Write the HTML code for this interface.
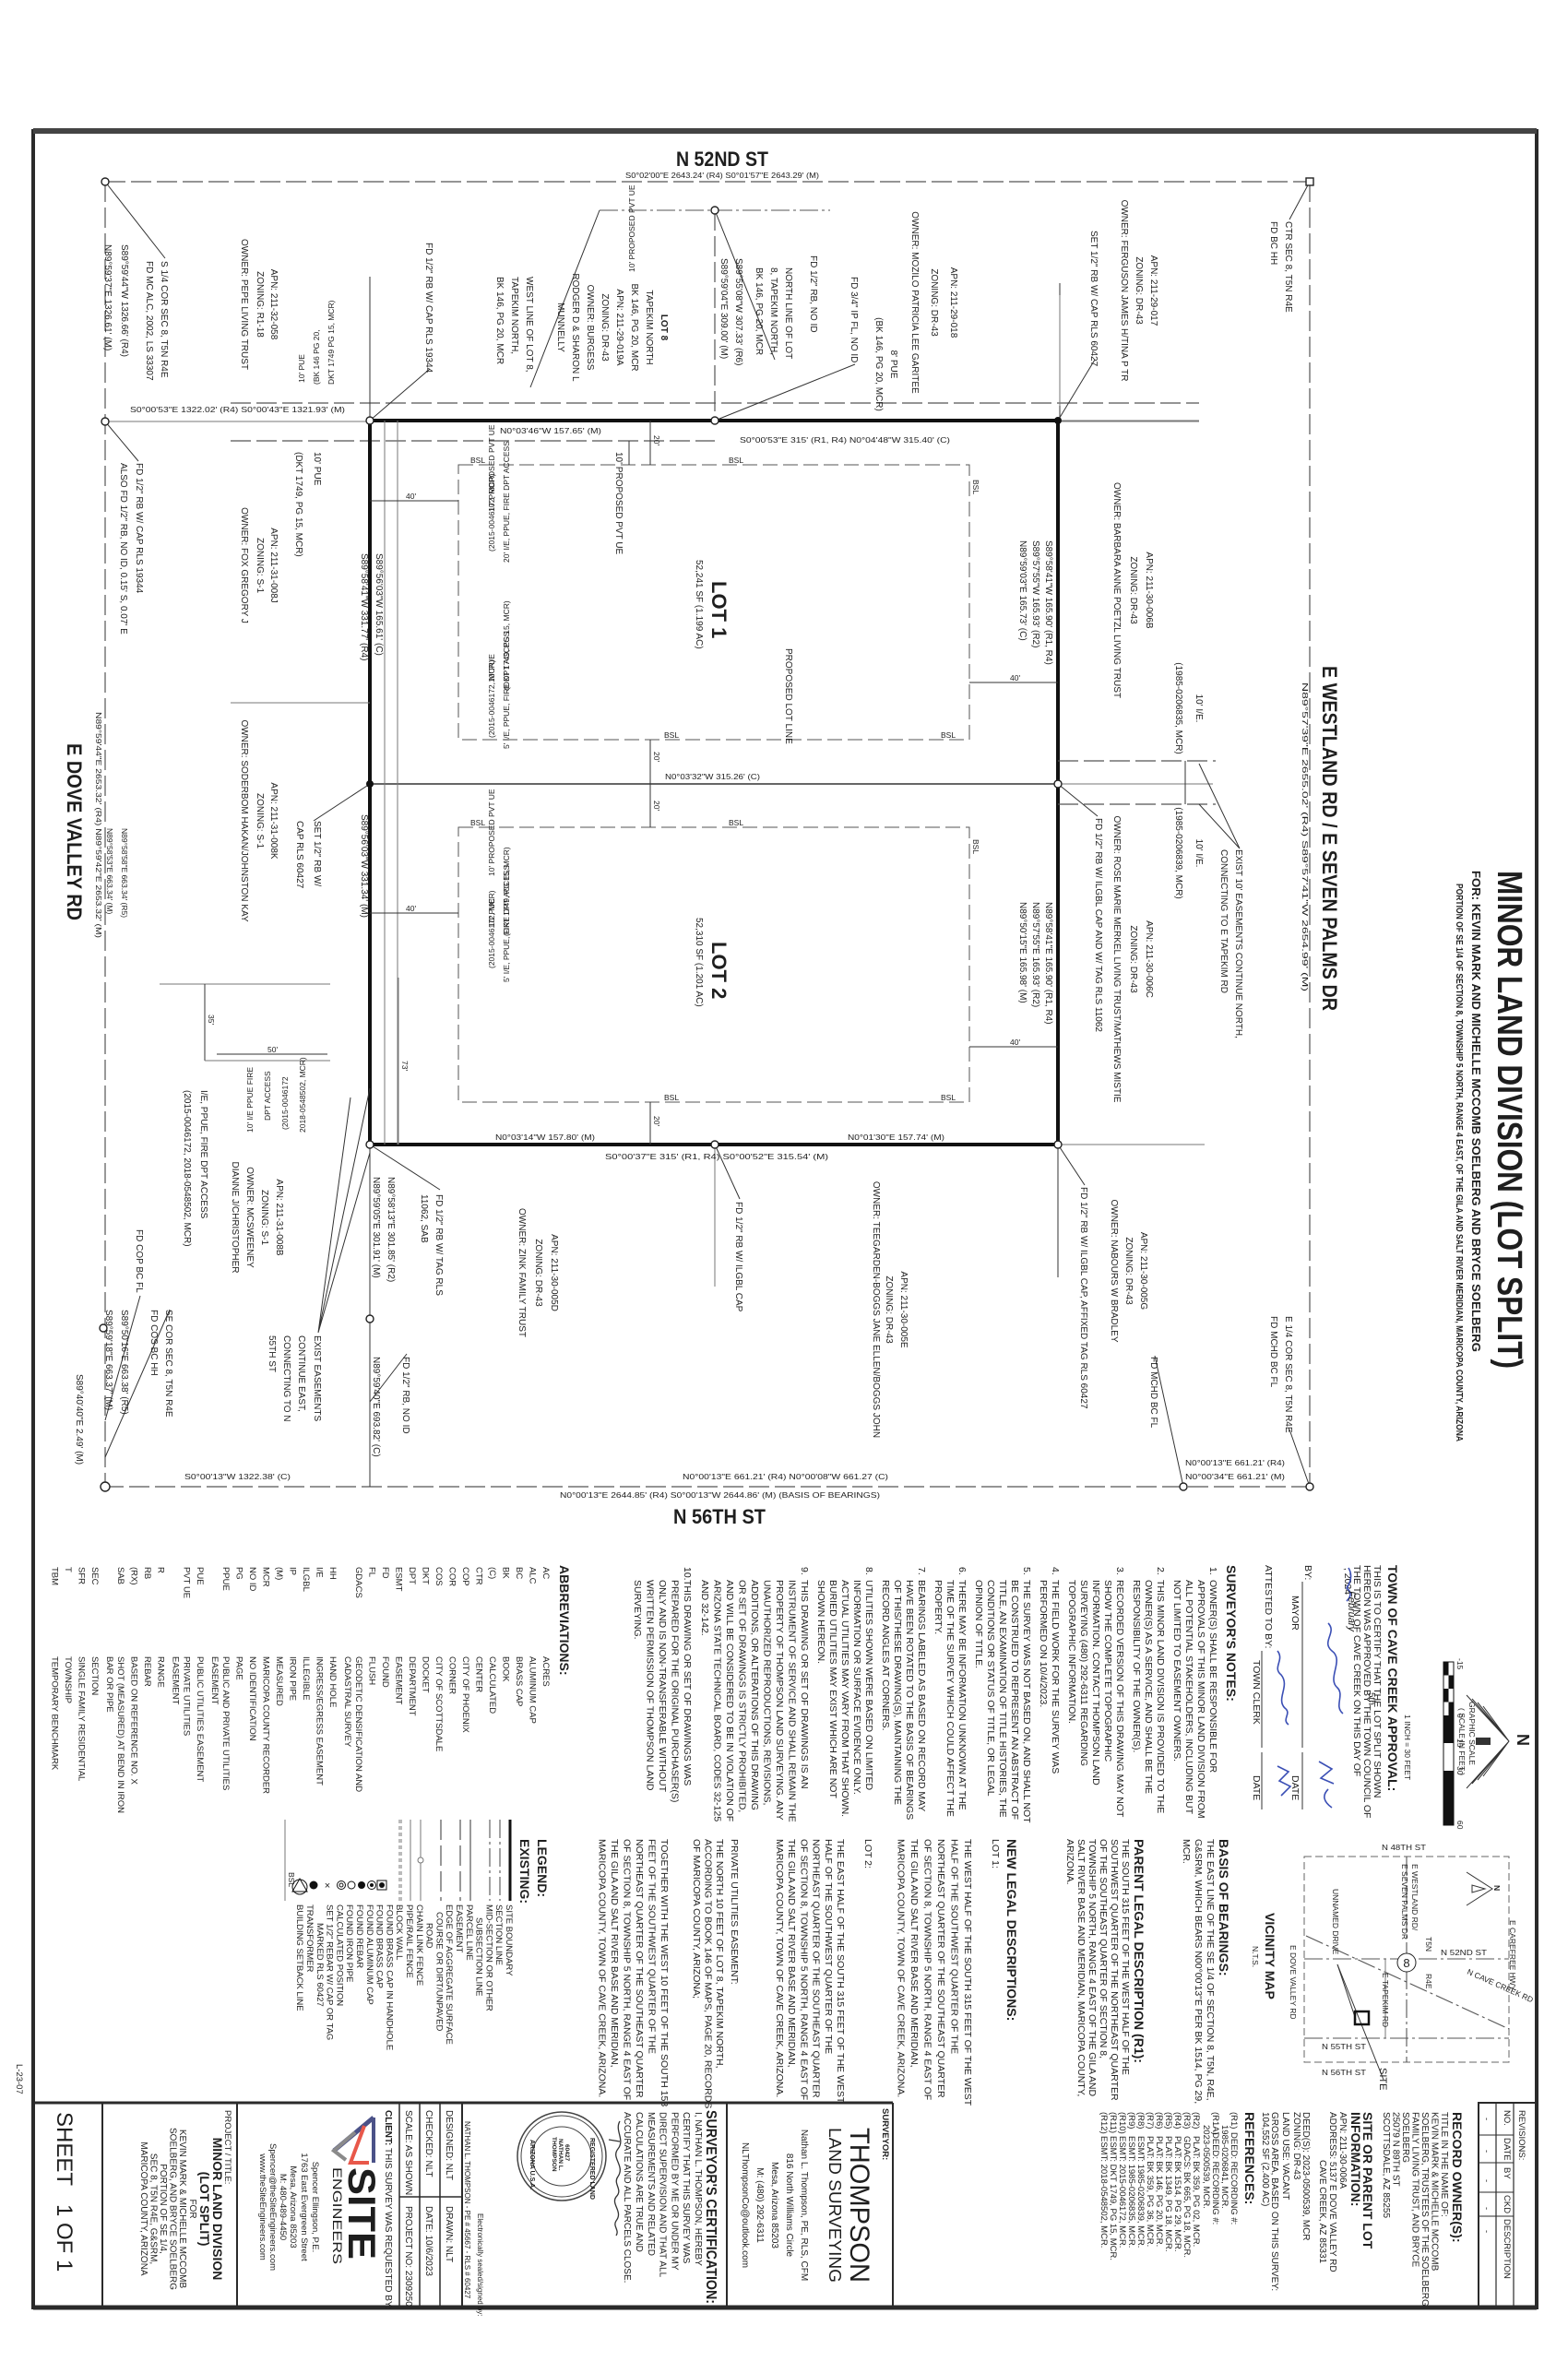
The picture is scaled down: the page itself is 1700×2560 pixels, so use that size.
<!DOCTYPE html>
<html><head><meta charset="utf-8">
<style>
html,body{margin:0;padding:0;background:#fff;}
svg{display:block}
text{font-family:"Liberation Sans",sans-serif;fill:#1e1e1e}
.s{font-size:10px}
.xs{font-size:8.5px}
.n{font-size:10.5px}
.h{font-size:14px;font-weight:bold}
.b{font-weight:bold}
.ln{stroke:#333;stroke-width:1;fill:none}
.lg{stroke:#777;stroke-width:1;fill:none}
.da{stroke:#555;stroke-width:1.2;stroke-dasharray:22 6;fill:none}
.dd{stroke:#555;stroke-width:1.1;stroke-dasharray:20 4 3 4;fill:none}
.bs{stroke:#555;stroke-width:1;stroke-dasharray:16 6;fill:none}
.mon{fill:#fff;stroke:#222;stroke-width:1.4}
</style></head>
<body>
<svg width="1700" height="2560" viewBox="0 0 1700 2560" xmlns="http://www.w3.org/2000/svg">
<rect width="1700" height="2560" fill="#fff"/>
<!-- frame -->
<rect x="36" y="142" width="1630" height="2360" fill="none" stroke="#2a2a2a" stroke-width="4"/>
<line x1="36" y1="142" x2="1666" y2="142" stroke="#444" stroke-width="6"/>

<!-- ===== DRAWING AREA ===== -->
<text x="783" y="180" class="b" font-size="22" text-anchor="middle" textLength="100" lengthAdjust="spacingAndGlyphs">N 52ND ST</text>
<text x="783" y="193" class="xs" text-anchor="middle" textLength="210" lengthAdjust="spacingAndGlyphs">S0°02'00"E 2643.24' (R4) S0°01'57"E 2643.29' (M)</text>
<line x1="114" y1="197" x2="1420" y2="197" class="da"/>
<line x1="114" y1="197" x2="114" y2="1612" class="da"/>
<line x1="1420" y1="197" x2="1420" y2="1612" class="da"/>
<line x1="112" y1="1612" x2="1420" y2="1612" class="da"/>
<line x1="114" y1="457" x2="1300" y2="457" class="lg"/>
<line x1="250" y1="437" x2="1300" y2="437" class="da" stroke="#888"/>
<line x1="250" y1="478" x2="775" y2="478" class="da" stroke="#888"/>
<line x1="401" y1="300" x2="401" y2="456" class="ln"/>
<line x1="1149" y1="307" x2="1149" y2="456" class="ln"/>
<line x1="775" y1="228" x2="775" y2="456" class="da" stroke="#888"/>
<line x1="650" y1="228" x2="900" y2="228" class="dd"/>
<line x1="1149" y1="320" x2="1149" y2="440" class="lg"/>

<!-- lots -->
<rect x="401" y="456" width="746" height="785" fill="none" stroke="#111" stroke-width="4"/>
<line x1="401" y1="850" x2="1147" y2="850" stroke="#333" stroke-width="1.4"/>
<line x1="1147" y1="850" x2="1315" y2="850" class="lg"/>
<line x1="1147" y1="1241" x2="1306" y2="1241" class="lg"/>
<line x1="1147" y1="456" x2="1300" y2="456" class="lg"/>
<line x1="1147" y1="1241" x2="1147" y2="1385" class="ln"/>
<line x1="401" y1="1241" x2="401" y2="1612" class="ln"/>
<line x1="775" y1="1241" x2="775" y2="1395" class="lg"/>
<line x1="431" y1="456" x2="431" y2="1241" class="lg"/>
<line x1="417" y1="456" x2="417" y2="1241" class="lg" stroke="#aaa"/>
<!-- BSL -->
<rect x="497" y="504" width="554" height="298" class="bs"/>
<rect x="497" y="897" width="554" height="298" class="bs"/>
<text transform="translate(1055,520) rotate(90)" class="xs">BSL</text>
<text transform="translate(1055,910) rotate(90)" class="xs">BSL</text>
<text x="510" y="502" class="xs">BSL</text><text x="790" y="502" class="xs">BSL</text>
<text x="720" y="800" class="xs">BSL</text><text x="1020" y="800" class="xs">BSL</text>
<text x="510" y="895" class="xs">BSL</text><text x="790" y="895" class="xs">BSL</text>
<text x="720" y="1193" class="xs">BSL</text><text x="1020" y="1193" class="xs">BSL</text>
<!-- easement lines -->
<line x1="250" y1="762" x2="401" y2="762" class="lg"/>
<line x1="1147" y1="825" x2="1318" y2="825" class="da" stroke="#999"/>
<line x1="1147" y1="872" x2="1318" y2="872" class="da" stroke="#999"/>
<line x1="1285" y1="825" x2="1285" y2="872" class="ln"/>
<line x1="173" y1="1067" x2="358" y2="1067" class="lg"/>
<line x1="222" y1="1067" x2="222" y2="1150" class="ln"/>
<line x1="235" y1="1143" x2="355" y2="1143" class="ln"/>
<line x1="222" y1="1150" x2="358" y2="1150" class="lg"/>
<text x="290" y="1141" class="xs">50'</text>
<text transform="translate(226,1100) rotate(90)" class="xs">35'</text>
<!-- dims -->
<line x1="705" y1="456" x2="705" y2="504" class="ln"/><text transform="translate(709,472) rotate(90)" class="xs">20'</text>
<line x1="705" y1="802" x2="705" y2="897" class="ln"/><text transform="translate(709,815) rotate(90)" class="xs">20'</text><text transform="translate(709,868) rotate(90)" class="xs">20'</text>
<line x1="705" y1="1195" x2="705" y2="1241" class="ln"/><text transform="translate(709,1210) rotate(90)" class="xs">20'</text>
<line x1="401" y1="543" x2="497" y2="543" class="ln"/><text x="440" y="541" class="xs">40'</text>
<line x1="401" y1="990" x2="497" y2="990" class="ln"/><text x="440" y="988" class="xs">40'</text>
<line x1="1051" y1="740" x2="1147" y2="740" class="ln"/><text x="1095" y="738" class="xs">40'</text>
<line x1="1051" y1="1135" x2="1147" y2="1135" class="ln"/><text x="1095" y="1133" class="xs">40'</text>
<line x1="432" y1="1060" x2="432" y2="1241" class="lg"/><text transform="translate(436,1150) rotate(90)" class="xs">73'</text>
<line x1="682" y1="478" x2="682" y2="504" class="ln"/>
<!-- leaders -->
<path class="ln" d="M114 197 L179 280 M1420 197 L1398 238 M401 456 L466 400 M775 228 L840 390 M650 228 L575 420 M775 456 L927 395 M1147 456 L1187 390 M114 457 L150 500 M401 850 L340 890 M1147 850 L1190 885 M1300 828 L1344 920 M1300 872 L1344 920 M401 1241 L477 1290 M775 1241 L802 1300 M1147 1241 L1176 1285 M114 1580 L184 1420 M114 1540 L152 1405 M1283 1612 L1252 1470 M1420 1612 L1398 1550 M401 1520 L441 1468 M401 1250 L345 1445 M401 1180 L345 1445 M380 1190 L345 1445"/>
<!-- monuments -->
<g>
<circle cx="114" cy="197" r="4" class="mon"/><rect x="1416" y="193" width="8" height="8" class="mon"/>
<circle cx="401" cy="456" r="4" class="mon"/><circle cx="775" cy="456" r="4" class="mon"/><circle cx="1147" cy="456" r="4" fill="#111"/>
<circle cx="114" cy="457" r="4" class="mon"/><circle cx="775" cy="228" r="4" class="mon"/>
<circle cx="401" cy="850" r="4" fill="#111"/><circle cx="1147" cy="850" r="4" class="mon"/>
<circle cx="401" cy="1241" r="4" class="mon"/><circle cx="775" cy="1241" r="4" class="mon"/><circle cx="1147" cy="1241" r="4" class="mon"/>
<circle cx="114" cy="1612" r="5" class="mon"/><circle cx="1283" cy="1612" r="4" class="mon"/><circle cx="1420" cy="1612" r="4" class="mon"/>
<circle cx="401" cy="1430" r="4" class="mon"/><circle cx="112" cy="1440" r="4" class="mon"/>
</g>

<!-- horizontal bearings -->
<text x="141" y="447" class="xs" textLength="233" lengthAdjust="spacingAndGlyphs">S0°00'53"E 1322.02' (R4) S0°00'43"E 1321.93' (M)</text>
<text x="542" y="470" class="xs" textLength="110" lengthAdjust="spacingAndGlyphs">N0°03'46"W 157.65' (M)</text>
<text x="802" y="480" class="xs" textLength="228" lengthAdjust="spacingAndGlyphs">S0°00'53"E 315' (R1, R4) N0°04'48"W 315.40' (C)</text>
<text x="721" y="845" class="xs" textLength="103" lengthAdjust="spacingAndGlyphs">N0°03'32"W 315.26' (C)</text>
<text x="537" y="1236" class="xs" textLength="108" lengthAdjust="spacingAndGlyphs">N0°03'14"W 157.80' (M)</text>
<text x="919" y="1236" class="xs" textLength="105" lengthAdjust="spacingAndGlyphs">N0°01'30"E 157.74' (M)</text>
<text x="656" y="1257" class="xs" textLength="242" lengthAdjust="spacingAndGlyphs">S0°00'37"E 315' (R1, R4) S0°00'52"E 315.54' (M)</text>
<text x="200" y="1604" class="xs" textLength="115" lengthAdjust="spacingAndGlyphs">S0°00'13"W 1322.38' (C)</text>
<text x="740" y="1604" class="xs" textLength="223" lengthAdjust="spacingAndGlyphs">N0°00'13"E 661.21' (R4) N0°00'08"W 661.27 (C)</text>
<text x="1285" y="1589" class="xs" textLength="108" lengthAdjust="spacingAndGlyphs">N0°00'13"E 661.21' (R4)</text>
<text x="1285" y="1604" class="xs" textLength="108" lengthAdjust="spacingAndGlyphs">N0°00'34"E 661.21' (M)</text>
<text x="607" y="1624" class="xs" textLength="347" lengthAdjust="spacingAndGlyphs">N0°00'13"E 2644.85' (R4) S0°00'13"W 2644.86' (M) (BASIS OF BEARINGS)</text>
<text x="780" y="1652" class="b" font-size="22" text-anchor="middle" textLength="100" lengthAdjust="spacingAndGlyphs">N 56TH ST</text>

<!-- big rotated titles -->
<text transform="translate(1624,944) rotate(90)" class="b" font-size="38" textLength="540" lengthAdjust="spacingAndGlyphs">MINOR LAND DIVISION (LOT SPLIT)</text>
<text transform="translate(1596,944) rotate(90)" class="b" font-size="13" textLength="522" lengthAdjust="spacingAndGlyphs">FOR: KEVIN MARK AND MICHELLE MCCOMB SOELBERG AND BRYCE SOELBERG</text>
<text transform="translate(1579,958) rotate(90)" class="b" font-size="10.5" textLength="605" lengthAdjust="spacingAndGlyphs">PORTION OF SE 1/4 OF SECTION 8, TOWNSHIP 5 NORTH, RANGE 4 EAST, OF THE GILA AND SALT RIVER MERIDIAN, MARICOPA COUNTY, ARIZONA</text>
<text transform="translate(1434,722) rotate(90)" class="b" font-size="22" textLength="374" lengthAdjust="spacingAndGlyphs">E WESTLAND RD / E SEVEN PALMS DR</text>
<text transform="translate(1412,740) rotate(90)" class="xs" textLength="335" lengthAdjust="spacingAndGlyphs">N89°57'39"E 2655.02' (R4) S89°57'41"W 2654.99' (M)</text>
<text transform="translate(73,806) rotate(90)" class="b" font-size="22" textLength="192" lengthAdjust="spacingAndGlyphs">E DOVE VALLEY RD</text>
<text transform="translate(104,772) rotate(90)" class="xs" textLength="245" lengthAdjust="spacingAndGlyphs">N89°59'44"E 2653.32' (R4) N89°59'42"E 2653.32' (M)</text>
<text transform="translate(132,898) rotate(90)" class="xs"><tspan x="0">N89°58'58"E 663.34' (R5)</tspan><tspan x="0" dy="16">N89°58'53"E 663.34' (M)</tspan></text>

<!-- LOT labels -->
<text transform="translate(772,630) rotate(90)" class="b" font-size="22">LOT 1</text>
<text transform="translate(755,607) rotate(90)" class="s">52,241 SF (1.199 AC)</text>
<text transform="translate(772,1021) rotate(90)" class="b" font-size="22">LOT 2</text>
<text transform="translate(755,995) rotate(90)" class="s">52,310 SF (1.201 AC)</text>
<text transform="translate(852,703) rotate(90)" class="s">PROPOSED LOT LINE</text>

<!-- annotation blocks (rotate 90) -->
<g class="s">
<text transform="translate(175,283) rotate(90)"><tspan x="0">S 1/4 COR SEC 8, T5N R4E</tspan><tspan x="0" dy="16">FD MC ALC, 2002, LS 33307</tspan></text>
<text transform="translate(132,265) rotate(90)"><tspan x="0">S89°59'44"W 1326.66' (R4)</tspan><tspan x="0" dy="18">N89°59'37"E 1326.61' (M)</tspan></text>
<text transform="translate(294,330) rotate(90)" text-anchor="middle"><tspan x="0">APN: 211-32-058</tspan><tspan x="0" dy="15">ZONING: R1-18</tspan><tspan x="0" dy="17">OWNER: PEPE LIVING TRUST</tspan></text>
<text transform="translate(462,263) rotate(90)">FD 1/2" RB W/ CAP RLS 19344</text>
<text transform="translate(717,355) rotate(90)" text-anchor="middle"><tspan x="0" font-weight="bold">LOT 8</tspan><tspan x="0" dy="16">TAPEKIM NORTH</tspan><tspan x="0" dy="16">BK 146, PG 20, MCR</tspan><tspan x="0" dy="16">APN: 211-29-019A</tspan><tspan x="0" dy="16">ZONING: DR-43</tspan><tspan x="0" dy="16">OWNER: BURGESS</tspan><tspan x="0" dy="16">RODGER D &amp; SHARON L</tspan><tspan x="0" dy="16">MUNNELLY</tspan></text>
<text transform="translate(571,300) rotate(90)"><tspan x="0">WEST LINE OF LOT 8,</tspan><tspan x="0" dy="16">TAPEKIM NORTH,</tspan><tspan x="0" dy="16">BK 146, PG 20, MCR</tspan></text>
<text transform="translate(879,277) rotate(90)">FD 1/2" RB, NO ID</text>
<text transform="translate(852,290) rotate(90)"><tspan x="0">NORTH LINE OF LOT</tspan><tspan x="0" dy="16">8, TAPEKIM NORTH,</tspan><tspan x="0" dy="16">BK 146, PG 20, MCR</tspan></text>
<text transform="translate(798,280) rotate(90)"><tspan x="0">S89°55'08"W 307.33' (R6)</tspan><tspan x="0" dy="16">S89°59'04"E 309.00' (M)</tspan></text>
<text transform="translate(923,300) rotate(90)">FD 3/4" IP FL, NO ID</text>
<text transform="translate(1031,328) rotate(90)" text-anchor="middle"><tspan x="0">APN: 211-29-018</tspan><tspan x="0" dy="21">ZONING: DR-43</tspan><tspan x="0" dy="21">OWNER: MOZILO PATRICIA LEE GARITEE</tspan></text>
<text transform="translate(966,395) rotate(90)" text-anchor="middle"><tspan x="0">8' PUE</tspan><tspan x="0" dy="16">(BK 146, PG 20, MCR)</tspan></text>
<text transform="translate(1248,315) rotate(90)" text-anchor="middle"><tspan x="0">APN: 211-29-017</tspan><tspan x="0" dy="16">ZONING: DR-43</tspan><tspan x="0" dy="16">OWNER: FERGUSON JAMES H/TINA P TR</tspan></text>
<text transform="translate(1183,250) rotate(90)">SET 1/2" RB W/ CAP RLS 60427</text>
<text transform="translate(1394,240) rotate(90)"><tspan x="0">CTR SEC 8, T5N R4E</tspan><tspan x="0" dy="16">FD BC HH</tspan></text>

<text transform="translate(148,502) rotate(90)"><tspan x="0">FD 1/2" RB W/ CAP RLS 19344</tspan><tspan x="0" dy="17">ALSO FD 1/2" RB, NO ID, 0.15' S, 0.07' E</tspan></text>
<text transform="translate(341,490) rotate(90)"><tspan x="0">10' PUE</tspan><tspan x="0" dy="20">(DKT 1749, PG 15, MCR)</tspan></text>
<text transform="translate(294,613) rotate(90)" text-anchor="middle"><tspan x="0">APN: 211-31-008J</tspan><tspan x="0" dy="15">ZONING: S-1</tspan><tspan x="0" dy="17">OWNER: FOX GREGORY J</tspan></text>
<text transform="translate(408,600) rotate(90)"><tspan x="0">S89°56'03"W 165.61' (C)</tspan><tspan x="0" dy="16">S89°58'41"W 331.77' (R4)</tspan></text>
<text transform="translate(668,490) rotate(90)">10' PROPOSED PVT UE</text>
<text transform="translate(1134,586) rotate(90)"><tspan x="0">S89°58'41"W 165.90' (R1, R4)</tspan><tspan x="0" dy="14">S89°57'55"W 165.93' (R2)</tspan><tspan x="0" dy="14">N89°59'03"E 165.73' (C)</tspan></text>
<text transform="translate(1243,640) rotate(90)" text-anchor="middle"><tspan x="0">APN: 211-30-006B</tspan><tspan x="0" dy="17">ZONING: DR-43</tspan><tspan x="0" dy="18">OWNER: BARBARA ANNE POETZL LIVING TRUST</tspan></text>
<text transform="translate(1297,768) rotate(90)" text-anchor="middle"><tspan x="0">10' I/E.</tspan><tspan x="0" dy="22">(1985-0206835, MCR)</tspan></text>
<text transform="translate(294,890) rotate(90)" text-anchor="middle"><tspan x="0">APN: 211-31-008K</tspan><tspan x="0" dy="15">ZONING: S-1</tspan><tspan x="0" dy="17">OWNER: SODERBOM HAKAN/JOHNSTON KAY</tspan></text>
<text transform="translate(341,890) rotate(90)"><tspan x="0">SET 1/2" RB W/</tspan><tspan x="0" dy="19">CAP RLS 60427</tspan></text>
<text transform="translate(392,883) rotate(90)">S89°56'03"W 331.34' (M)</text>
<text transform="translate(1340,921) rotate(90)"><tspan x="0">EXIST 10' EASEMENTS CONTINUE NORTH,</tspan><tspan x="0" dy="16">CONNECTING TO E TAPEKIM RD</tspan></text>
<text transform="translate(1297,925) rotate(90)" text-anchor="middle"><tspan x="0">10' I/E.</tspan><tspan x="0" dy="22">(1985-0206839, MCR)</tspan></text>
<text transform="translate(1243,1040) rotate(90)" text-anchor="middle"><tspan x="0">APN: 211-30-006C</tspan><tspan x="0" dy="17">ZONING: DR-43</tspan><tspan x="0" dy="18">OWNER: ROSE MARIE MERKEL LIVING TRUST/MATHEWS MISTIE</tspan></text>
<text transform="translate(1188,887) rotate(90)">FD 1/2" RB W/ ILGBL CAP AND W/ TAG RLS 11062</text>
<text transform="translate(1134,978) rotate(90)"><tspan x="0">N89°58'41"E 165.90' (R1, R4)</tspan><tspan x="0" dy="14">N89°57'55"E 165.93' (R2)</tspan><tspan x="0" dy="14">N89°50'15"E 165.98' (M)</tspan></text>

<text transform="translate(218,1182) rotate(90)"><tspan x="0">I/E, PPUE, FIRE DPT ACCESS</tspan><tspan x="0" dy="18">(2015-0046172, 2018-0548502, MCR)</tspan></text>
<text transform="translate(300,1320) rotate(90)" text-anchor="middle"><tspan x="0">APN: 211-31-008B</tspan><tspan x="0" dy="16">ZONING: S-1</tspan><tspan x="0" dy="16">OWNER: MCSWEENEY</tspan><tspan x="0" dy="16">DIANNE J/CHRISTOPHER</tspan></text>
<text transform="translate(473,1295) rotate(90)"><tspan x="0">FD 1/2" RB W/ TAG RLS</tspan><tspan x="0" dy="16">11062, SAB</tspan></text>
<text transform="translate(421,1276) rotate(90)"><tspan x="0">N89°58'13"E 301.85' (R2)</tspan><tspan x="0" dy="16">N89°59'05"E 301.91' (M)</tspan></text>
<text transform="translate(598,1380) rotate(90)" text-anchor="middle"><tspan x="0">APN: 211-30-005D</tspan><tspan x="0" dy="17">ZONING: DR-43</tspan><tspan x="0" dy="18">OWNER: ZINK FAMILY TRUST</tspan></text>
<text transform="translate(798,1303) rotate(90)">FD 1/2" RB W/ ILGBL CAP</text>
<text transform="translate(977,1420) rotate(90)" text-anchor="middle"><tspan x="0">APN: 211-30-005E</tspan><tspan x="0" dy="16">ZONING: DR-43</tspan><tspan x="0" dy="14">OWNER: TEEGARDEN-BOGGS JANE ELLEN/BOGGS JOHN</tspan></text>
<text transform="translate(1237,1378) rotate(90)" text-anchor="middle"><tspan x="0">APN: 211-30-005G</tspan><tspan x="0" dy="16">ZONING: DR-43</tspan><tspan x="0" dy="16">OWNER: NABOURS W BRADLEY</tspan></text>
<text transform="translate(1172,1287) rotate(90)">FD 1/2" RB W/ ILGBL CAP, AFFIXED TAG RLS 60427</text>
<text transform="translate(1248,1471) rotate(90)">FD MCHD BC FL</text>
<text transform="translate(1394,1427) rotate(90)"><tspan x="0">E 1/4 COR SEC 8, T5N R4E</tspan><tspan x="0" dy="16">FD MCHD BC FL</tspan></text>
<text transform="translate(341,1448) rotate(90)"><tspan x="0">EXIST EASEMENTS</tspan><tspan x="0" dy="17">CONTINUE EAST,</tspan><tspan x="0" dy="16">CONNECTING TO N</tspan><tspan x="0" dy="16">55TH ST</tspan></text>
<text transform="translate(437,1471) rotate(90)">FD 1/2" RB, NO ID</text>
<text transform="translate(405,1471) rotate(90)">N89°59'40"E 693.82' (C)</text>
<text transform="translate(148,1333) rotate(90)">FD COP BC FL</text>
<text transform="translate(180,1420) rotate(90)"><tspan x="0">SE COR SEC 8, T5N R4E</tspan><tspan x="0" dy="16">FD COS BC HH</tspan></text>
<text transform="translate(132,1420) rotate(90)"><tspan x="0">S89°50'16"E 663.38' (R5)</tspan><tspan x="0" dy="17">S89°59'18"E 663.37' (M)</tspan></text>
<text transform="translate(83,1490) rotate(90)">S89°40'40"E 2.49' (M)</text>
</g>
<!-- upside-down small labels -->
<g class="xs">
<text transform="translate(688,295) rotate(-90)">10' PROPOSED PVT UE</text>
<text transform="translate(330,415) rotate(-90)">10' PUE</text>
<text transform="translate(346,417) rotate(-90)">(BK 146 PG 20,</text>
<text transform="translate(362,417) rotate(-90)">DKT 1749 PG 15, MCR)</text>
<text transform="translate(536,555) rotate(-90)">10' PROPOSED PVT UE</text>
<text transform="translate(552,610) rotate(-90)">20' I/E, PPUE, FIRE DPT ACCESS</text>
<text transform="translate(536,598) rotate(-90)">(2015-0046172, MCR)</text>
<text transform="translate(552,748) rotate(-90)">(DKT 1749, PG 15, MCR)</text>
<text transform="translate(536,740) rotate(-90)">10' PUE</text>
<text transform="translate(536,800) rotate(-90)">(2015-0046172, MCR)</text>
<text transform="translate(552,812) rotate(-90)">5' I/E, PPUE, FIRE DPT ACCESS</text>
<text transform="translate(536,950) rotate(-90)">10' PROPOSED PVT UE</text>
<text transform="translate(552,1015) rotate(-90)">(DKT 1749, PG 15, MCR)</text>
<text transform="translate(536,1005) rotate(-90)">10' PUE</text>
<text transform="translate(536,1050) rotate(-90)">(2015-0046172, MCR)</text>
<text transform="translate(552,1065) rotate(-90)">5' I/E, PPUE, FIRE DPT ACCESS</text>
<text transform="translate(274,1228) rotate(-90)">10' I/E PPUE FIRE</text>
<text transform="translate(293,1215) rotate(-90)">DPT ACCESS</text>
<text transform="translate(312,1225) rotate(-90)">(2015-0046172</text>
<text transform="translate(331,1228) rotate(-90)">2018-0548502, MCR)</text>
</g>

<!-- ===== LOWER NOTES ===== -->
<!-- graphic scale + north arrow -->
<g>
<rect x="1565" y="1802" width="11" height="177" fill="#fff" stroke="#111"/>
<rect x="1565" y="1802" width="5.5" height="14.5" fill="#111"/><rect x="1570.5" y="1816.5" width="5.5" height="14.5" fill="#111"/>
<rect x="1565" y="1831" width="5.5" height="14.5" fill="#111"/><rect x="1570.5" y="1845.5" width="5.5" height="14.5" fill="#111"/>
<rect x="1565" y="1860" width="11" height="30" fill="#111"/><rect x="1565" y="1920" width="11" height="59" fill="#111"/>
<text transform="translate(1580,1798) rotate(90)" class="xs">-15</text>
<text transform="translate(1580,1858) rotate(90)" class="xs">0</text>
<text transform="translate(1580,1885) rotate(90)" class="xs">15</text>
<text transform="translate(1580,1915) rotate(90)" class="xs">30</text>
<text transform="translate(1580,1974) rotate(90)" class="xs">60</text>
<text transform="translate(1593,1845) rotate(90)" class="xs" font-family="Liberation Serif" fill="#777">GRAPHIC   SCALE</text>
<text transform="translate(1582,1852) rotate(90)" class="xs" font-family="Liberation Serif" fill="#777">( SCALE  IN  FEET )</text>
<text transform="translate(1523,1859) rotate(90)" class="xs">1 INCH =  30 FEET</text>
<path d="M1590 1838 L1636 1888 L1590 1939 M1596 1842 L1636 1888 L1596 1934 M1602 1846 L1636 1888 L1602 1930 M1608 1850 L1636 1888 L1608 1926" stroke="#333" stroke-width="1" fill="none"/>
<rect x="1600" y="1884" width="16" height="8" fill="#333"/>
<text transform="translate(1645,1880) rotate(90)" class="b" font-size="18" font-family="Liberation Serif">N</text>
</g>

<!-- Column A -->
<g class="n">
<text transform="translate(1505,1697) rotate(90)" class="h">TOWN OF CAVE CREEK APPROVAL:</text>
<text transform="translate(1490,1697) rotate(90)"><tspan x="0">THIS IS TO CERTIFY THAT THE LOT SPLIT SHOWN</tspan><tspan x="0" dy="11">HEREON WAS APPROVED BY THE TOWN COUNCIL OF</tspan><tspan x="0" dy="11">THE TOWN OF CAVE CREEK ON THIS       DAY OF</tspan><tspan x="0" dy="10">                          , 2024</tspan></text>
<text transform="translate(1415,1697) rotate(90)">BY:</text>
<line x1="1412" y1="1715" x2="1412" y2="1895" class="ln"/><line x1="1412" y1="1900" x2="1412" y2="1962" class="ln"/>
<text transform="translate(1401,1730) rotate(90)">MAYOR</text><text transform="translate(1401,1925) rotate(90)">DATE</text>
<text transform="translate(1372,1697) rotate(90)">ATTESTED TO BY:</text>
<line x1="1368" y1="1790" x2="1368" y2="1895" class="ln"/><line x1="1368" y1="1900" x2="1368" y2="1962" class="ln"/>
<text transform="translate(1359,1800) rotate(90)">TOWN CLERK</text><text transform="translate(1359,1925) rotate(90)">DATE</text>
<path d="M1462 1700 q6 10 -2 22 q8 6 0 14 M1440 1760 c10 10 -8 20 4 30 c14 10 -6 30 6 40 c8 8 -4 20 6 28 M1430 1910 l14 8 l-12 10 l14 6 M1440 1940 q-10 10 4 20 M1385 1790 c8 10 -6 18 4 26 c10 12 -6 26 4 36 c8 6 -4 12 4 18 M1385 1915 l12 6 l-10 10 l12 6 l-10 10" stroke="#3b4fb5" stroke-width="1.6" fill="none"/>
<text transform="translate(1462,1725) rotate(90)" font-size="11" fill="#3b4fb5" font-style="italic">February</text>
<text transform="translate(1484,1835) rotate(90)" font-size="10" fill="#3b4fb5">5th</text>

<text transform="translate(1330,1697) rotate(90)" class="h">SURVEYOR'S NOTES:</text>
<text transform="translate(1312,1699) rotate(90)">
<tspan x="0">1.</tspan><tspan x="14">OWNER(S) SHALL BE RESPONSIBLE FOR</tspan>
<tspan x="14" dy="13">APPROVALS OF THIS MINOR LAND DIVISION FROM</tspan>
<tspan x="14" dy="13">ALL POTENTIAL STAKEHOLDERS, INCLUDING BUT</tspan>
<tspan x="14" dy="13">NOT LIMITED TO EASEMENT OWNERS.</tspan>
<tspan x="0" dy="18">2.</tspan><tspan x="14">THIS MINOR LAND DIVISION IS PROVIDED TO THE</tspan>
<tspan x="14" dy="13">OWNER(S) AS A SERVICE, AND SHALL BE THE</tspan>
<tspan x="14" dy="13">RESPONSIBILITY OF THE OWNER(S).</tspan>
<tspan x="0" dy="18">3.</tspan><tspan x="14">RECORDED VERSION OF THIS DRAWING MAY NOT</tspan>
<tspan x="14" dy="13">SHOW THE COMPLETE TOPOGRAPHIC</tspan>
<tspan x="14" dy="13">INFORMATION.  CONTACT THOMPSON LAND</tspan>
<tspan x="14" dy="13">SURVEYING (480) 292-6311 REGARDING</tspan>
<tspan x="14" dy="13">TOPOGRAPHIC INFORMATION.</tspan>
<tspan x="0" dy="18">4.</tspan><tspan x="14">THE FIELD WORK FOR THE SURVEY WAS</tspan>
<tspan x="14" dy="13">PERFORMED ON 10/4/2023.</tspan>
<tspan x="0" dy="18">5.</tspan><tspan x="14">THE SURVEY WAS NOT BASED ON, AND SHALL NOT</tspan>
<tspan x="14" dy="13">BE CONSTRUED TO REPRESENT AN ABSTRACT OF</tspan>
<tspan x="14" dy="13">TITLE, AN EXAMINATION OF TITLE HISTORIES, THE</tspan>
<tspan x="14" dy="13">CONDITIONS OR STATUS OF TITLE, OR LEGAL</tspan>
<tspan x="14" dy="13">OPINION OF TITLE.</tspan>
<tspan x="0" dy="18">6.</tspan><tspan x="14">THERE MAY BE INFORMATION UNKNOWN AT THE</tspan>
<tspan x="14" dy="13">TIME OF THE SURVEY WHICH COULD AFFECT THE</tspan>
<tspan x="14" dy="13">PROPERTY.</tspan>
<tspan x="0" dy="18">7.</tspan><tspan x="14">BEARINGS LABELED AS BASED ON RECORD MAY</tspan>
<tspan x="14" dy="13">HAVE BEEN ROTATED TO THE BASIS OF BEARINGS</tspan>
<tspan x="14" dy="13">OF THIS/THESE DRAWING(S), MAINTAINING THE</tspan>
<tspan x="14" dy="13">RECORD ANGLES AT CORNERS.</tspan>
<tspan x="0" dy="18">8.</tspan><tspan x="14">UTILITIES SHOWN WERE BASED ON LIMITED</tspan>
<tspan x="14" dy="13">INFORMATION OR SURFACE EVIDENCE ONLY.</tspan>
<tspan x="14" dy="13">ACTUAL UTILITIES MAY VARY FROM THAT SHOWN.</tspan>
<tspan x="14" dy="13">BURIED UTILITIES MAY EXIST WHICH ARE NOT</tspan>
<tspan x="14" dy="13">SHOWN HEREON.</tspan>
<tspan x="0" dy="18">9.</tspan><tspan x="14">THIS DRAWING OR SET OF DRAWINGS IS AN</tspan>
<tspan x="14" dy="13.5">INSTRUMENT OF SERVICE AND SHALL REMAIN THE</tspan>
<tspan x="14" dy="13.5">PROPERTY OF THOMPSON LAND SURVEYING.  ANY</tspan>
<tspan x="14" dy="13.5">UNAUTHORIZED REPRODUCTIONS, REVISIONS,</tspan>
<tspan x="14" dy="13.5">ADDITIONS, OR ALTERATIONS OF THIS DRAWING</tspan>
<tspan x="14" dy="13.5">OR SET OF DRAWINGS IS STRICTLY PROHIBITED,</tspan>
<tspan x="14" dy="13.5">AND WILL BE CONSIDERED TO BE IN VIOLATION OF</tspan>
<tspan x="14" dy="13.5">ARIZONA STATE TECHNICAL BOARD, CODES 32-125</tspan>
<tspan x="14" dy="13.5">AND 32-142.</tspan>
<tspan x="0" dy="19">10.</tspan><tspan x="14">THIS DRAWING OR SET OF DRAWINGS WAS</tspan>
<tspan x="14" dy="13.5">PREPARED FOR THE ORIGINAL PURCHASER(S)</tspan>
<tspan x="14" dy="13.5">ONLY AND IS NON-TRANSFERABLE WITHOUT</tspan>
<tspan x="14" dy="13.5">WRITTEN PERMISSION OF THOMPSON LAND</tspan>
<tspan x="14" dy="13.5">SURVEYING.</tspan>
</text>

<text transform="translate(607,1697) rotate(90)" class="h">ABBREVIATIONS:</text>
<text transform="translate(589,1699) rotate(90)" font-size="9.5">
<tspan x="0">AC</tspan><tspan x="97">ACRES</tspan>
<tspan x="0" dy="14.5">ALC</tspan><tspan x="97">ALUMINUM CAP</tspan>
<tspan x="0" dy="14.5">BC</tspan><tspan x="97">BRASS CAP</tspan>
<tspan x="0" dy="14.5">BK</tspan><tspan x="97">BOOK</tspan>
<tspan x="0" dy="14.5">(C)</tspan><tspan x="97">CALCULATED</tspan>
<tspan x="0" dy="14.5">CTR</tspan><tspan x="97">CENTER</tspan>
<tspan x="0" dy="14.5">COP</tspan><tspan x="97">CITY OF PHOENIX</tspan>
<tspan x="0" dy="14.5">COR</tspan><tspan x="97">CORNER</tspan>
<tspan x="0" dy="14.5">COS</tspan><tspan x="97">CITY OF SCOTTSDALE</tspan>
<tspan x="0" dy="14.5">DKT</tspan><tspan x="97">DOCKET</tspan>
<tspan x="0" dy="14.5">DPT</tspan><tspan x="97">DEPARTMENT</tspan>
<tspan x="0" dy="14.5">ESMT</tspan><tspan x="97">EASEMENT</tspan>
<tspan x="0" dy="14.5">FD</tspan><tspan x="97">FOUND</tspan>
<tspan x="0" dy="14.5">FL</tspan><tspan x="97">FLUSH</tspan>
<tspan x="0" dy="14.5">GDACS</tspan><tspan x="97">GEODETIC DENSIFICATION  AND</tspan>
<tspan x="97" dy="12">CADASTRAL SURVEY</tspan>
<tspan x="0" dy="16">HH</tspan><tspan x="97">HAND HOLE</tspan>
<tspan x="0" dy="14.5">I/E</tspan><tspan x="97">INGRESS/EGRESS EASEMENT</tspan>
<tspan x="0" dy="14.5">ILGBL</tspan><tspan x="97">ILLEGIBLE</tspan>
<tspan x="0" dy="14.5">IP</tspan><tspan x="97">IRON PIPE</tspan>
<tspan x="0" dy="14.5">(M)</tspan><tspan x="97">MEASURED</tspan>
<tspan x="0" dy="14.5">MCR</tspan><tspan x="97">MARICOPA COUNTY RECORDER</tspan>
<tspan x="0" dy="14.5">NO ID</tspan><tspan x="97">NO IDENTIFICATION</tspan>
<tspan x="0" dy="14.5">PG</tspan><tspan x="97">PAGE</tspan>
<tspan x="0" dy="14.5">PPUE</tspan><tspan x="97">PUBLIC AND PRIVATE UTILITIES</tspan>
<tspan x="97" dy="12">EASEMENT</tspan>
<tspan x="0" dy="16">PUE</tspan><tspan x="97">PUBLIC UTILITIES EASEMENT</tspan>
<tspan x="0" dy="14.5">PVT UE</tspan><tspan x="97">PRIVATE UTILITIES</tspan>
<tspan x="97" dy="12">EASEMENT</tspan>
<tspan x="0" dy="16">R</tspan><tspan x="97">RANGE</tspan>
<tspan x="0" dy="14.5">RB</tspan><tspan x="97">REBAR</tspan>
<tspan x="0" dy="14.5">(RX)</tspan><tspan x="97">BASED ON REFERENCE NO. X</tspan>
<tspan x="0" dy="14.5">SAB</tspan><tspan x="97">SHOT (MEASURED) AT BEND IN IRON</tspan>
<tspan x="97" dy="12">BAR OR PIPE</tspan>
<tspan x="0" dy="16">SEC</tspan><tspan x="97">SECTION</tspan>
<tspan x="0" dy="14.5">SFR</tspan><tspan x="97">SINGLE FAMILY RESIDENTIAL</tspan>
<tspan x="0" dy="14.5">T</tspan><tspan x="97">TOWNSHIP</tspan>
<tspan x="0" dy="14.5">TBM</tspan><tspan x="97">TEMPORARY BENCHMARK</tspan>
</text>
<text transform="translate(18,2238) rotate(90)" font-size="9.5">L-23-07</text>

<!-- Column B -->
<text transform="translate(1322,1994) rotate(90)" class="h">BASIS OF BEARINGS:</text>
<text transform="translate(1309,1994) rotate(90)"><tspan x="0">THE EAST LINE OF THE SE 1/4 OF SECTION 8, T5N, R4E,</tspan><tspan x="0" dy="13">G&amp;SRM, WHICH BEARS N00°00'13"E PER BK 1514, PG 29,</tspan><tspan x="0" dy="13">MCR.</tspan></text>
<text transform="translate(1230,1994) rotate(90)" class="h">PARENT LEGAL DESCRIPTION (R1):</text>
<text transform="translate(1217,1994) rotate(90)"><tspan x="0">THE SOUTH 315 FEET OF THE WEST HALF OF THE</tspan><tspan x="0" dy="12">SOUTHWEST QUARTER OF THE NORTHEAST QUARTER</tspan><tspan x="0" dy="12">OF THE SOUTHEAST QUARTER OF SECTION 8,</tspan><tspan x="0" dy="12">TOWNSHIP 5 NORTH, RANGE 4 EAST OF THE GILA AND</tspan><tspan x="0" dy="12">SALT RIVER BASE AND MERIDIAN, MARICOPA COUNTY,</tspan><tspan x="0" dy="12">ARIZONA.</tspan></text>
<text transform="translate(1092,1994) rotate(90)" class="h">NEW LEGAL DESCRIPTIONS:</text>
<text transform="translate(1076,1994) rotate(90)">LOT 1:</text>
<text transform="translate(1046,1994) rotate(90)"><tspan x="0">THE WEST HALF OF THE SOUTH 315 FEET OF THE WEST</tspan><tspan x="0" dy="14.5">HALF OF THE SOUTHWEST QUARTER OF THE</tspan><tspan x="0" dy="14.5">NORTHEAST QUARTER OF THE SOUTHEAST QUARTER</tspan><tspan x="0" dy="14.5">OF SECTION 8, TOWNSHIP 5 NORTH, RANGE 4 EAST OF</tspan><tspan x="0" dy="14.5">THE GILA AND SALT RIVER BASE AND MERIDIAN,</tspan><tspan x="0" dy="14.5">MARICOPA COUNTY, TOWN OF CAVE CREEK, ARIZONA.</tspan></text>
<text transform="translate(938,1994) rotate(90)">LOT 2:</text>
<text transform="translate(908,1994) rotate(90)"><tspan x="0">THE EAST HALF OF THE SOUTH 315 FEET OF THE WEST</tspan><tspan x="0" dy="13.2">HALF OF THE SOUTHWEST QUARTER OF THE</tspan><tspan x="0" dy="13.2">NORTHEAST QUARTER OF THE SOUTHEAST QUARTER</tspan><tspan x="0" dy="13.2">OF SECTION 8, TOWNSHIP 5 NORTH, RANGE 4 EAST OF</tspan><tspan x="0" dy="13.2">THE GILA AND SALT RIVER BASE AND MERIDIAN,</tspan><tspan x="0" dy="13.2">MARICOPA COUNTY, TOWN OF CAVE CREEK, ARIZONA.</tspan></text>
<text transform="translate(793,1994) rotate(90)">PRIVATE UTILITIES EASEMENT:</text>
<text transform="translate(777,1994) rotate(90)"><tspan x="0">THE NORTH 10 FEET OF LOT 8, TAPEKIM NORTH,</tspan><tspan x="0" dy="12.5">ACCORDING TO BOOK 146 OF MAPS, PAGE 20, RECORDS</tspan><tspan x="0" dy="12.5">OF MARICOPA COUNTY, ARIZONA;</tspan></text>
<text transform="translate(717,1994) rotate(90)"><tspan x="0">TOGETHER WITH THE WEST 10 FEET OF THE SOUTH 158</tspan><tspan x="0" dy="13.5">FEET OF THE SOUTHWEST QUARTER OF THE</tspan><tspan x="0" dy="13.5">NORTHEAST QUARTER OF THE SOUTHEAST QUARTER</tspan><tspan x="0" dy="13.5">OF SECTION 8, TOWNSHIP 5 NORTH, RANGE 4 EAST OF</tspan><tspan x="0" dy="13.5">THE GILA AND SALT RIVER BASE AND MERIDIAN,</tspan><tspan x="0" dy="13.5">MARICOPA COUNTY, TOWN OF CAVE CREEK, ARIZONA.</tspan></text>
<text transform="translate(583,1994) rotate(90)" class="h">LEGEND:</text>
<text transform="translate(564,1994) rotate(90)" class="h">EXISTING:</text>
<text transform="translate(549,2065) rotate(90)" font-size="9.5">
<tspan x="0">SITE BOUNDARY</tspan><tspan x="0" dy="10.8">SECTION LINE</tspan><tspan x="0" dy="10.8">MID-SECTION OR OTHER</tspan><tspan x="14" dy="10.8">SUBSECTION LINE</tspan><tspan x="0" dy="10.8">PARCEL LINE</tspan><tspan x="0" dy="10.8">EASEMENT</tspan><tspan x="0" dy="10.8">EDGE OF AGGREGATE SURFACE</tspan><tspan x="8" dy="10.8">COURSE OR DIRT/UNPAVED</tspan><tspan x="20" dy="10.8">ROAD</tspan><tspan x="0" dy="10.8">CHAIN LINK FENCE</tspan><tspan x="0" dy="10.8">PIPE/RAIL FENCE</tspan><tspan x="0" dy="10.8">BLOCK WALL</tspan><tspan x="0" dy="10.8">FOUND BRASS CAP IN HANDHOLE</tspan><tspan x="0" dy="10.8">FOUND BRASS CAP</tspan><tspan x="0" dy="10.8">FOUND ALUMINUM CAP</tspan><tspan x="0" dy="10.8">FOUND REBAR</tspan><tspan x="0" dy="10.8">FOUND IRON PIPE</tspan><tspan x="0" dy="10.8">CALCULATED POSITION</tspan><tspan x="0" dy="10.8">SET 1/2" REBAR W/ CAP OR TAG</tspan><tspan x="20" dy="10.8">MARKED RLS 60427</tspan><tspan x="0" dy="10.8">TRANSFORMER</tspan><tspan x="0" dy="10.8">BUILDING SETBACK LINE</tspan>
</text>
</g>
<!-- legend symbols -->
<g>
<line x1="553" y1="1973" x2="553" y2="2061" stroke="#111" stroke-width="3"/>
<line x1="542" y1="1973" x2="542" y2="2061" class="dd"/>
<line x1="531" y1="1973" x2="531" y2="2061" class="dd" stroke="#888"/>
<line x1="510" y1="1973" x2="510" y2="2061" class="ln"/>
<line x1="499" y1="1973" x2="499" y2="2061" class="da" stroke="#888"/>
<line x1="478" y1="1973" x2="478" y2="2061" class="da" stroke="#aaa"/>
<line x1="456" y1="1973" x2="456" y2="2061" class="lg"/><circle cx="456" cy="2017" r="3" fill="#fff" stroke="#777"/>
<line x1="445" y1="1973" x2="445" y2="2061" class="lg"/>
<line x1="434" y1="1973" x2="434" y2="2061" stroke="#bbb" stroke-width="4" stroke-dasharray="4 3"/>
<rect x="409" y="2039" width="10" height="10" fill="#fff" stroke="#111"/><circle cx="414" cy="2044" r="3" fill="#111"/>
<circle cx="403" cy="2044" r="4.5" fill="#fff" stroke="#111"/><circle cx="403" cy="2044" r="2" fill="#111"/>
<circle cx="392" cy="2044" r="4" fill="#111"/>
<circle cx="381" cy="2044" r="4" fill="#fff" stroke="#111"/>
<circle cx="370" cy="2044" r="4.5" fill="#fff" stroke="#111"/><circle cx="370" cy="2044" r="2" fill="none" stroke="#111"/>
<text x="355" y="2048" font-size="11" text-anchor="middle">×</text>
<circle cx="340" cy="2044" r="4.5" fill="#111"/>
<path d="M325 2037 l8 14 l-16 0 z" fill="none" stroke="#111"/><circle cx="325" cy="2046" r="8" fill="none" stroke="#111"/>
<line x1="309" y1="1973" x2="309" y2="2061" class="lg"/>
<text transform="translate(313,2030) rotate(90)" class="xs">BSL</text>
</g>

<!-- vicinity map -->
<g>
<rect x="1414" y="2013" width="222" height="223" fill="none" stroke="#666" stroke-dasharray="8 4"/>
<line x1="1525" y1="2013" x2="1525" y2="2236" class="dd" stroke="#888"/>
<line x1="1414" y1="2124" x2="1636" y2="2124" class="dd" stroke="#888"/>
<line x1="1414" y1="2210" x2="1636" y2="2210" class="dd" stroke="#888"/>
<line x1="1416" y1="2099" x2="1636" y2="2200" class="dd" stroke="#444"/>
<line x1="1502" y1="2124" x2="1502" y2="2210" class="lg"/>
<line x1="1450" y1="2130" x2="1500" y2="2255" class="ln"/>
<line x1="1450" y1="2130" x2="1470" y2="2190" class="ln"/>
<rect x="1469" y="2181" width="15" height="14" fill="none" stroke="#111" stroke-width="2.5"/>
<circle cx="1525" cy="2128" r="10" fill="#fff" stroke="#222"/>
<text x="1525" y="2133" font-size="13" text-anchor="middle">8</text>
<text x="1522" y="2006" class="xs" text-anchor="middle" textLength="48" lengthAdjust="spacingAndGlyphs">N 48TH ST</text>
<text x="1587" y="2120" class="xs" text-anchor="middle" textLength="50" lengthAdjust="spacingAndGlyphs">N 52ND ST</text>
<text x="1457" y="2222" class="xs" text-anchor="middle" textLength="48" lengthAdjust="spacingAndGlyphs">N 55TH ST</text>
<text x="1457" y="2250" class="xs" text-anchor="middle" textLength="48" lengthAdjust="spacingAndGlyphs">N 56TH ST</text>
<text transform="translate(1590,2140) rotate(24)" class="xs">N CAVE CREEK RD</text>
<text transform="translate(1637,2082) rotate(90)" class="xs">E CAREFREE HWY</text>
<text transform="translate(1531,2021) rotate(90)" class="xs">E WESTLAND RD/</text>
<text transform="translate(1520,2021) rotate(90)" class="xs">E SEVEN PALMS DR</text>
<text transform="translate(1546,2100) rotate(90)" class="xs">T5N</text>
<text transform="translate(1546,2140) rotate(90)" class="xs">R4E</text>
<text transform="translate(1445,2048) rotate(90)" class="xs">UNNAMED DRIVE</text>
<text transform="translate(1499,2139) rotate(90)" class="xs">E TAPEKIM RD</text>
<text transform="translate(1399,2109) rotate(90)" class="xs">E DOVE VALLEY RD</text>
<text transform="translate(1372,2074) rotate(90)" class="h" font-size="13">VICINITY MAP</text>
<text transform="translate(1358,2110) rotate(90)" class="xs">N.T.S.</text>
<text transform="translate(1496,2242) rotate(90)" font-size="11">SITE</text>
<path d="M1590 2030 L1618 2048 L1590 2066 M1596 2044 L1596 2052 L1610 2048 Z" stroke="#333" fill="none"/>
<text transform="translate(1620,2044) rotate(90)" class="xs b">N</text>
</g>

<!-- ===== TITLE BLOCK ===== -->
<g>
<line x1="36" y1="2280" x2="968" y2="2280" stroke="#2a2a2a" stroke-width="3"/>
<line x1="968" y1="2280" x2="968" y2="2502" stroke="#2a2a2a" stroke-width="2"/>
<line x1="788" y1="2280" x2="788" y2="2502" stroke="#2a2a2a" stroke-width="2"/>
<line x1="501" y1="2280" x2="501" y2="2502" stroke="#2a2a2a" stroke-width="2"/>
<line x1="477" y1="2280" x2="477" y2="2502" stroke="#2a2a2a" stroke-width="1.5"/>
<line x1="455" y1="2280" x2="455" y2="2502" stroke="#2a2a2a" stroke-width="1.5"/>
<line x1="433" y1="2280" x2="433" y2="2502" stroke="#2a2a2a" stroke-width="1.5"/>
<line x1="433" y1="2382" x2="501" y2="2382" stroke="#2a2a2a" stroke-width="1.5"/>
<line x1="257" y1="2280" x2="257" y2="2502" stroke="#2a2a2a" stroke-width="2"/>
<line x1="111" y1="2280" x2="111" y2="2502" stroke="#2a2a2a" stroke-width="2"/>
<rect x="1603" y="2280" width="63" height="222" fill="none" stroke="#2a2a2a" stroke-width="2"/>
<line x1="1603" y1="2280" x2="1603" y2="2502" stroke="#2a2a2a" stroke-width="2"/>
<line x1="1622" y1="2280" x2="1622" y2="2502" stroke="#2a2a2a" stroke-width="1.2"/>
<line x1="1641" y1="2280" x2="1641" y2="2502" stroke="#2a2a2a" stroke-width="1.2"/>
<line x1="1603" y1="2315" x2="1641" y2="2315" stroke="#2a2a2a"/>
<line x1="1603" y1="2345" x2="1641" y2="2345" stroke="#2a2a2a"/>
<line x1="1603" y1="2377" x2="1641" y2="2377" stroke="#2a2a2a"/>
<line x1="1603" y1="2403" x2="1641" y2="2403" stroke="#2a2a2a"/>
<line x1="36" y1="2502" x2="1666" y2="2502" stroke="#2a2a2a" stroke-width="5"/>
</g>
<g class="s">
<text transform="translate(1647,2288) rotate(90)" font-size="9.5">REVISIONS:</text>
<text transform="translate(1631,2288) rotate(90)" font-size="9.5"><tspan x="0">NO.</tspan><tspan x="30">DATE</tspan><tspan x="62">BY</tspan><tspan x="92">CKD</tspan><tspan x="118">DESCRIPTION</tspan></text>
<text transform="translate(1609,2296) rotate(90)" font-size="9.5"><tspan x="0">-</tspan><tspan x="35">-</tspan><tspan x="67">-</tspan><tspan x="97">-</tspan><tspan x="122">-</tspan></text>

<text transform="translate(1575,2290) rotate(90)" class="h" font-size="15">RECORD OWNER(S):</text>
<text transform="translate(1563,2290) rotate(90)" font-size="10"><tspan x="0">TITLE IN THE NAME OF:</tspan><tspan x="0" dy="10.5">KEVIN MARK &amp; MICHELLE MCCOMB</tspan><tspan x="0" dy="10.5">SOELBERG, TRUSTEES OF THE SOELBERG</tspan><tspan x="0" dy="10.5">FAMILY LIVING TRUST, AND BRYCE</tspan><tspan x="0" dy="10.5">SOELBERG</tspan><tspan x="0" dy="10.5">25079 N 89TH ST</tspan><tspan x="0" dy="10.5">SCOTTSDALE, AZ 85255</tspan></text>
<text transform="translate(1478,2290) rotate(90)" class="h" font-size="15"><tspan x="0">SITE OR PARENT LOT</tspan><tspan x="0" dy="13">INFORMATION:</tspan></text>
<text transform="translate(1453,2290) rotate(90)" font-size="10"><tspan x="0">APN:  211-30-006A</tspan><tspan x="0" dy="11">ADDRESS:  5137 E DOVE VALLEY RD</tspan><tspan x="52" dy="11">CAVE CREEK, AZ 85331</tspan><tspan x="0" dy="18">DEED(S):  2023-0500539, MCR</tspan><tspan x="0" dy="10">ZONING:  DR-43</tspan><tspan x="0" dy="12">LAND USE:  VACANT</tspan><tspan x="0" dy="12">GROSS AREA, BASED ON THIS SURVEY:</tspan><tspan x="0" dy="10">104,552 SF (2.400 AC)</tspan></text>
<text transform="translate(1350,2290) rotate(90)" class="h" font-size="15">REFERENCES:</text>
<text transform="translate(1335,2290) rotate(90)" font-size="9.5"><tspan x="0">(R1)</tspan><tspan x="22">DEED: RECORDING #:</tspan><tspan x="14" dy="10">1985-0206841, MCR.</tspan><tspan x="0" dy="10">(R1A)</tspan><tspan x="22">DEED: RECORDING #:</tspan><tspan x="14" dy="10">2023-0500539, MCR.</tspan><tspan x="0" dy="11">(R2)</tspan><tspan x="26">PLAT: BK 359, PG 02, MCR.</tspan><tspan x="0" dy="10">(R3)</tspan><tspan x="26">GDACS: BK 665, PG 18, MCR.</tspan><tspan x="0" dy="10">(R4)</tspan><tspan x="26">PLAT: BK 1514, PG 29, MCR.</tspan><tspan x="0" dy="10">(R5)</tspan><tspan x="26">PLAT: BK 1349, PG 18, MCR.</tspan><tspan x="0" dy="10">(R6)</tspan><tspan x="26">PLAT: BK 146, PG 20, MCR.</tspan><tspan x="0" dy="10">(R7)</tspan><tspan x="26">PLAT: BK 359, PG 36, MCR.</tspan><tspan x="0" dy="10">(R8)</tspan><tspan x="26">ESMT: 1985-0206839, MCR.</tspan><tspan x="0" dy="10">(R9)</tspan><tspan x="26">ESMT: 1985-0206835, MCR.</tspan><tspan x="0" dy="10">(R10)</tspan><tspan x="26">ESMT: 2015-0046172, MCR.</tspan><tspan x="0" dy="10">(R11)</tspan><tspan x="26">ESMT: DKT 1749, PG 15, MCR.</tspan><tspan x="0" dy="10">(R12)</tspan><tspan x="26">ESMT: 2018-0548502, MCR.</tspan></text>

<text transform="translate(957,2286) rotate(90)" font-size="9.5" font-weight="bold">SURVEYOR:</text>
<text transform="translate(922,2391) rotate(90)" text-anchor="middle" font-size="30" textLength="168" lengthAdjust="spacingAndGlyphs">THOMPSON</text>
<text transform="translate(899,2391) rotate(90)" text-anchor="middle" font-size="18" textLength="168" lengthAdjust="spacingAndGlyphs">LAND SURVEYING</text>
<text transform="translate(869,2391) rotate(90)" text-anchor="middle" font-size="10"><tspan x="0">Nathan L. Thompson, PE, RLS, CFM</tspan><tspan x="0" dy="16">816 North Williams Circle</tspan><tspan x="0" dy="16">Mesa, Arizona 85203</tspan><tspan x="0" dy="16">M: (480) 292-6311</tspan><tspan x="0" dy="16">NLThompsonCo@outlook.com</tspan></text>

<text transform="translate(766,2288) rotate(90)" class="b" font-size="15.5" textLength="210" lengthAdjust="spacingAndGlyphs">SURVEYOR'S CERTIFICATION:</text>
<text transform="translate(754,2290) rotate(90)" font-size="10"><tspan x="0">I, NATHAN L. THOMPSON, HEREBY</tspan><tspan x="0" dy="12.8">CERTIFY THAT THIS SURVEY WAS</tspan><tspan x="0" dy="12.8">PERFORMED BY ME OR UNDER MY</tspan><tspan x="0" dy="12.8">DIRECT SUPERVISION AND THAT ALL</tspan><tspan x="0" dy="12.8">MEASUREMENTS AND RELATED</tspan><tspan x="0" dy="12.8">CALCULATIONS ARE TRUE AND</tspan><tspan x="0" dy="12.8">ACCURATE AND ALL PARCELS CLOSE.</tspan></text>
<circle cx="609" cy="2338" r="48" fill="none" stroke="#444" stroke-width="1.5"/>
<circle cx="609" cy="2338" r="44" fill="none" stroke="#444" stroke-width="1"/>
<circle cx="609" cy="2338" r="32" fill="none" stroke="#444" stroke-width="1"/>
<text transform="translate(640,2318) rotate(90)" font-size="7" font-weight="bold">REGISTERED LAND</text>
<text transform="translate(613,2325) rotate(90)" font-size="6.5" font-weight="bold"><tspan x="0">60427</tspan><tspan x="-6" dy="7">NATHAN L.</tspan><tspan x="-8" dy="7">THOMPSON</tspan></text>
<text transform="translate(575,2320) rotate(90)" font-size="7" font-weight="bold">ARIZONA U.S.A.</text>
<path d="M672 2300 c-6 10 6 20 -2 30 c-8 10 8 18 0 30 c-6 8 6 14 -2 22 c-6 8 8 16 0 26 c-4 6 4 10 0 16 M660 2320 l12 2" stroke="#333" stroke-width="1.3" fill="none"/>
<text transform="translate(518,2400) rotate(90)" font-size="8">Electronically sealed/signed by:</text>
<text transform="translate(504,2300) rotate(90)" font-size="8">NATHAN L. THOMPSON - PE # 45667 - RLS # 60427</text>

<text transform="translate(484,2288) rotate(90)" font-size="10"><tspan x="0">DESIGNED:  NLT</tspan><tspan x="104">DRAWN:  NLT</tspan></text>
<text transform="translate(462,2288) rotate(90)" font-size="10"><tspan x="0">CHECKED:  NLT</tspan><tspan x="104">DATE:  10/6/2023</tspan></text>
<text transform="translate(440,2288) rotate(90)" font-size="10"><tspan x="0">SCALE:  AS SHOWN</tspan><tspan x="104">PROJECT NO:  2309250</tspan></text>
<text transform="translate(418,2288) rotate(90)" font-size="10"><tspan font-weight="bold">CLIENT:</tspan> THIS SURVEY WAS REQUESTED BY:</text>
<path d="M405 2296 L362 2332" stroke="#4b5288" stroke-width="5" fill="none"/>
<path d="M405 2296 L405 2345" stroke="#4b5288" stroke-width="4" fill="none"/>
<path d="M385 2312 L362 2332 L375 2342" stroke="#8a8a8a" stroke-width="4" fill="none"/>
<path d="M395 2305 L380 2345 L400 2345" stroke="#e8584a" stroke-width="4" fill="none"/>
<text transform="translate(378,2350) rotate(90)" font-size="42" font-weight="bold" fill="#4b5288" textLength="100" lengthAdjust="spacingAndGlyphs">SITE</text>
<text transform="translate(361,2350) rotate(90)" font-size="14" fill="#4b5288" textLength="105" lengthAdjust="spacingAndGlyphs">ENGINEERS</text>
<text transform="translate(339,2393) rotate(90)" text-anchor="middle" font-size="9.5"><tspan x="0">Spencer Ellingson, P.E.</tspan><tspan x="0" dy="12">1763 East Evergreen Street</tspan><tspan x="0" dy="12">Mesa, Arizona 85203</tspan><tspan x="0" dy="11">M: 480-489-4450</tspan><tspan x="0" dy="11">Spencer@theSiteEngineers.com</tspan><tspan x="0" dy="11">www.theSiteEngineers.com</tspan></text>

<text transform="translate(244,2288) rotate(90)" font-size="9.5">PROJECT / TITLE:</text>
<text transform="translate(231,2395) rotate(90)" text-anchor="middle" font-size="14" font-weight="bold"><tspan x="0">MINOR LAND DIVISION</tspan><tspan x="0" dy="14">(LOT SPLIT)</tspan></text>
<text transform="translate(206,2395) rotate(90)" text-anchor="middle" font-size="10"><tspan x="0">FOR</tspan><tspan x="0" dy="11">KEVIN MARK &amp; MICHELLE MCCOMB</tspan><tspan x="0" dy="10.5">SOELBERG, AND BRYCE SOELBERG</tspan><tspan x="0" dy="10.5">PORTION OF SE 1/4,</tspan><tspan x="0" dy="10.5">SEC 8, T5N R4E, G&amp;SRM,</tspan><tspan x="0" dy="10.5">MARICOPA COUNTY, ARIZONA</tspan></text>
<text transform="translate(62,2290) rotate(90)" font-size="24"><tspan x="0">SHEET</tspan><tspan x="100">1 OF 1</tspan></text>
</g>
</svg>
</body></html>
